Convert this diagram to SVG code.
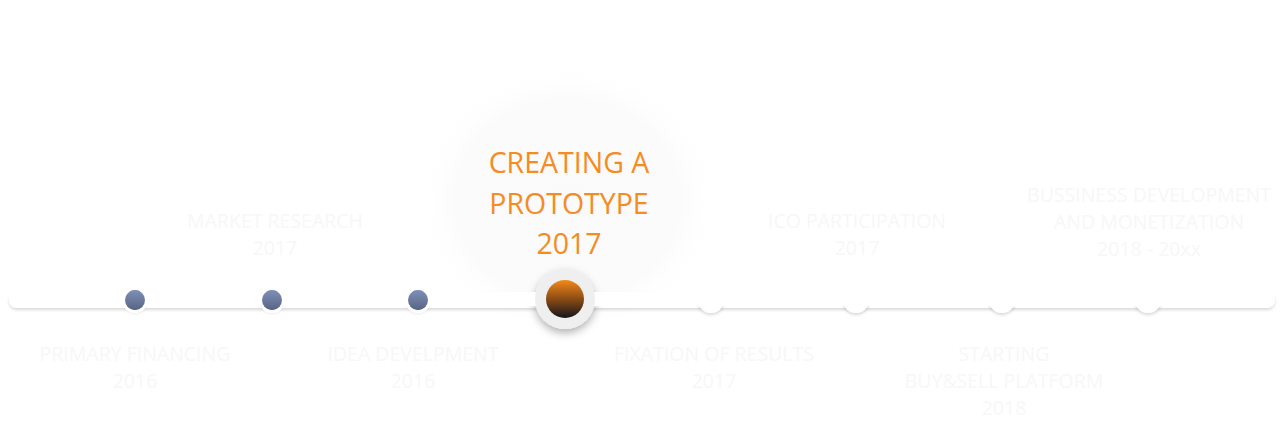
<svg xmlns="http://www.w3.org/2000/svg" width="1284" height="421" viewBox="0 0 1284 421">
<style>
.lbl{font-family:"Open Sans","Liberation Sans",sans-serif;font-size:19.5px;fill:#f7f7f7;text-anchor:middle}
.act{font-family:"Open Sans","Liberation Sans",sans-serif;font-size:28.5px;fill:#f68b1f;text-anchor:middle}
.halo{fill:#ffffff;filter:url(#sh3)}
.done{fill:url(#gb)}
.fut{fill:#ffffff;filter:url(#sh)}
</style>
<defs>
<filter id="sh" x="-50%" y="-50%" width="200%" height="200%">
<feDropShadow dx="0" dy="2" stdDeviation="1.5" flood-color="#000" flood-opacity="0.15"/>
</filter>
<filter id="sh3" x="-50%" y="-50%" width="200%" height="200%">
<feDropShadow dx="0" dy="1" stdDeviation="1" flood-color="#000" flood-opacity="0.08"/>
</filter>
<filter id="sh2" x="-50%" y="-50%" width="200%" height="200%">
<feDropShadow dx="0" dy="4" stdDeviation="4" flood-color="#000" flood-opacity="0.3"/>
</filter>
<linearGradient id="gb" x1="0" y1="0" x2="0" y2="1">
<stop offset="0" stop-color="#7e90b8"/>
<stop offset="1" stop-color="#596483"/>
</linearGradient>
<linearGradient id="go" x1="0" y1="0" x2="0" y2="1">
<stop offset="0" stop-color="#f4891b"/>
<stop offset="0.5" stop-color="#8a4c14"/>
<stop offset="1" stop-color="#15151c"/>
</linearGradient>
<radialGradient id="glow" cx="0.5" cy="0.5" r="0.5">
<stop offset="0" stop-color="#fafafa"/>
<stop offset="0.75" stop-color="#fbfbfb"/>
<stop offset="1" stop-color="#ffffff" stop-opacity="0"/>
</radialGradient>
</defs>
<rect width="1284" height="421" fill="#ffffff"/>
<ellipse cx="568" cy="200" rx="150" ry="135" fill="url(#glow)"/>
<g id="connectors">
<rect x="9" y="292" width="1266" height="16" rx="8" fill="#ffffff" filter="url(#sh)"/>
</g>
<g id="n1">
<circle cx="135" cy="300" r="13" class="halo"/>
<circle cx="135" cy="300" r="10" class="done"/>
<text class="lbl" x="135" y="361">PRIMARY FINANCING</text>
<text class="lbl" x="135" y="388">2016</text>
</g>
<g id="n2">
<circle cx="272" cy="300" r="13" class="halo"/>
<circle cx="272" cy="300" r="10" class="done"/>
<text class="lbl" x="275" y="228">MARKET RESEARCH</text>
<text class="lbl" x="275" y="255">2017</text>
</g>
<g id="n3">
<circle cx="418" cy="300" r="13" class="halo"/>
<circle cx="418" cy="300" r="10" class="done"/>
<text class="lbl" x="413" y="361">IDEA DEVELPMENT</text>
<text class="lbl" x="413" y="388">2016</text>
</g>
<g id="n4">
<circle cx="565" cy="299" r="30" fill="#efefef" filter="url(#sh2)"/>
<circle cx="565" cy="299" r="19" fill="url(#go)"/>
<text class="act" x="569" y="173">CREATING A</text>
<text class="act" x="569" y="214">PROTOTYPE</text>
<text class="act" x="569" y="254">2017</text>
</g>
<g id="n5">
<circle cx="711" cy="300" r="13" class="fut"/>
<text class="lbl" x="714" y="361">FIXATION OF RESULTS</text>
<text class="lbl" x="714" y="388">2017</text>
</g>
<g id="n6">
<circle cx="856" cy="300" r="13" class="fut"/>
<text class="lbl" x="857" y="228">ICO PARTICIPATION</text>
<text class="lbl" x="857" y="255">2017</text>
</g>
<g id="n7">
<circle cx="1002" cy="300" r="13" class="fut"/>
<text class="lbl" x="1004" y="361">STARTING</text>
<text class="lbl" x="1004" y="388">BUY&amp;SELL PLATFORM</text>
<text class="lbl" x="1004" y="415">2018</text>
</g>
<g id="n8">
<circle cx="1148" cy="300" r="13" class="fut"/>
<text class="lbl" x="1149" y="202">BUSSINESS DEVELOPMENT</text>
<text class="lbl" x="1149" y="229">AND MONETIZATION</text>
<text class="lbl" x="1149" y="256">2018 - 20xx</text>
</g>
<rect x="9" y="292" width="1266" height="14" rx="7" fill="#ffffff"/>
<circle cx="135" cy="300" r="10" class="done"/>
<circle cx="272" cy="300" r="10" class="done"/>
<circle cx="418" cy="300" r="10" class="done"/>
<circle cx="565" cy="299" r="30" fill="#efefef"/>
<circle cx="565" cy="299" r="19" fill="url(#go)"/>
</svg>
